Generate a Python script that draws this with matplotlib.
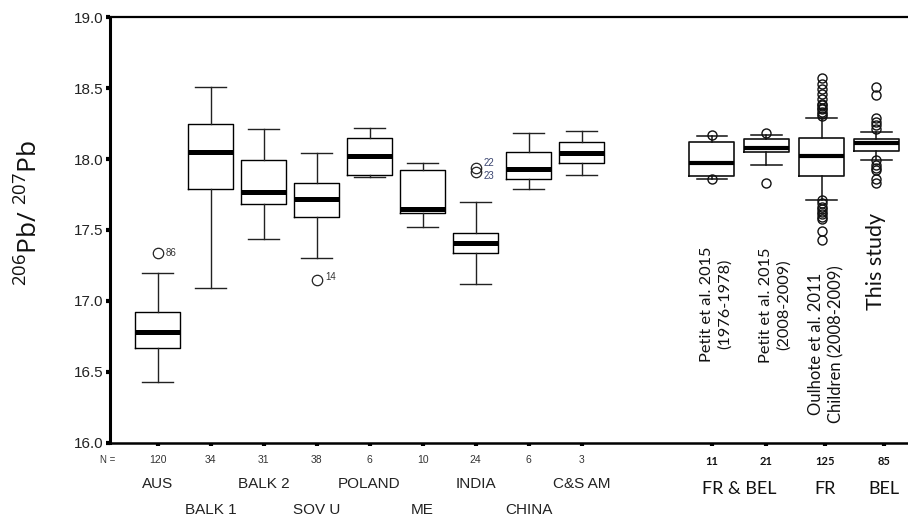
import matplotlib
matplotlib.use("Agg")
import matplotlib.pyplot as plt

# --- data ---
left_labels = ["AUS", "BALK 1", "BALK 2", "SOV U", "POLAND", "ME", "INDIA", "CHINA", "C&S AM"]
left_n = [120, 34, 31, 38, 6, 10, 24, 6, 3]
left_whishi = [17.20, 18.51, 18.21, 18.04, 18.22, 17.97, 17.70, 18.18, 18.20]
left_q3 = [16.92, 18.25, 17.99, 17.83, 18.15, 17.92, 17.48, 18.05, 18.12]
left_med = [16.78, 18.05, 17.77, 17.72, 18.02, 17.65, 17.41, 17.93, 18.04]
left_q1 = [16.67, 17.79, 17.68, 17.59, 17.89, 17.62, 17.34, 17.86, 17.97]
left_whislo = [16.43, 17.09, 17.44, 17.30, 17.87, 17.52, 17.12, 17.79, 17.89]
left_fliers = [[17.34], [], [], [17.15], [], [], [17.94, 17.91], [], []]
left_flier_ids = [["86"], [], [], ["14"], [], [], ["22", "23"], [], []]

right_labels = ["Petit et al. 2015\n(1976-1978)", "Petit et al. 2015\n(2008-2009)",
                "Oulhote et al. 2011\nChildren (2008-2009)", "This study"]
right_n = [11, 21, 125, 85]
right_whishi = [18.16, 18.17, 18.29, 18.19]
right_q3 = [18.12, 18.14, 18.15, 18.14]
right_med = [17.97, 18.08, 18.02, 18.11]
right_q1 = [17.88, 18.05, 17.88, 18.06]
right_whislo = [17.86, 17.96, 17.71, 17.99]
right_fliers = [
    [18.17, 17.86],
    [18.18, 17.83],
    [18.57, 18.53, 18.49, 18.46, 18.42, 18.39, 18.38, 18.36, 18.35, 18.33, 18.32, 18.30,
     17.71, 17.69, 17.66, 17.65, 17.63, 17.61, 17.59, 17.58, 17.49, 17.43],
    [18.51, 18.45, 18.29, 18.26, 18.24, 18.21, 17.99, 17.96, 17.94, 17.92, 17.86, 17.83],
]
region_labels = ["FR & BEL", "FR", "BEL"]

# --- layout ---
left_pos = list(range(1, 10))
right_pos = [11.46, 12.49, 13.53, 14.56]
right_tick_pos = [11.46, 12.48, 13.6, 14.7]
region_pos = [11.97, 13.6, 14.7]
ref_text_x = [11.53, 12.65, 13.62, 14.55]
ref_text_y = [0.19, 0.188, 0.047, 0.312]
ref_text_size = [11.8, 11.8, 12, 15.5]

ARIAL = "Liberation Sans"
CALIBRI = "Lato"


def make_stats(whislo, q1, med, q3, whishi, fliers):
    out = []
    for i in range(len(med)):
        out.append(dict(whislo=whislo[i], q1=q1[i], med=med[i], q3=q3[i],
                        whishi=whishi[i], fliers=fliers[i]))
    return out


fig = plt.figure(figsize=(9.08, 5.18), dpi=100)
ax = fig.add_axes([0.121, 0.145, 0.879, 0.822])

common = dict(widths=0.85, capwidths=0.58, showfliers=True, patch_artist=False)
ax.bxp(make_stats(left_whislo, left_q1, left_med, left_q3, left_whishi, left_fliers),
       positions=left_pos, **common,
       boxprops=dict(color="black", lw=1.0),
       whiskerprops=dict(color="#222222", lw=1.0),
       capprops=dict(color="#222222", lw=1.0),
       medianprops=dict(color="black", lw=3.6, solid_capstyle="butt"),
       flierprops=dict(marker="o", mfc="none", mec="#222222", ms=7.5, mew=0.9))

ax.bxp(make_stats(right_whislo, right_q1, right_med, right_q3, right_whishi, right_fliers),
       positions=right_pos, **common,
       boxprops=dict(color="#111111", lw=1.2),
       whiskerprops=dict(color="#111111", lw=1.1),
       capprops=dict(color="#111111", lw=1.1),
       medianprops=dict(color="black", lw=3.0, solid_capstyle="butt"),
       flierprops=dict(marker="o", mfc="none", mec="#111111", ms=6.5, mew=1.0))

# outlier case numbers
for i, ids in enumerate(left_flier_ids):
    for j, lab in enumerate(ids):
        dy = 0
        if lab == "22":
            dy = 3
        elif lab == "23":
            dy = -3
        elif lab == "14":
            dy = 2
        col = "#3a4570" if lab in ("22", "23") else "#333333"
        ax.annotate(lab, (left_pos[i], left_fliers[i][j]), xytext=(6, dy),
                    textcoords="offset points", fontsize=7, family=ARIAL,
                    color=col, va="center", ha="left")

ax.set_xlim(0.1, 15.16)
ax.set_ylim(16.0, 19.0)
ax.set_yticks([16.0, 16.5, 17.0, 17.5, 18.0, 18.5, 19.0])
ax.set_yticklabels([f"{v:.1f}" for v in ax.get_yticks()], family=ARIAL,
                   fontsize=11, color="#222222")
ax.tick_params(axis="y", direction="out", length=3, width=3, pad=1.5, color="black")
ax.set_xticks(left_pos + right_tick_pos)
ax.set_xticklabels([])
ax.tick_params(axis="x", direction="out", length=2.5, width=3, color="black")

for side, lw in (("left", 2.2), ("top", 1.6), ("bottom", 1.8)):
    ax.spines[side].set_linewidth(lw)
ax.spines["right"].set_visible(False)

trans = ax.get_xaxis_transform()
ax.text(-0.003, -0.04, "N =", transform=ax.transAxes, ha="center", va="center",
        fontsize=7, family=ARIAL, color="#333333")
for i, p in enumerate(left_pos):
    ax.text(p, -0.04, str(left_n[i]), transform=trans, ha="center", va="center",
            fontsize=7.5, family=ARIAL, color="#333333")
    row_y = -0.096 if i % 2 == 0 else -0.157
    ax.text(p, row_y, left_labels[i], transform=trans, ha="center", va="center",
            fontsize=11, family=ARIAL, color="#222222")

for i, p in enumerate(right_tick_pos):
    ax.text(p, -0.043, str(right_n[i]), transform=trans, ha="center", va="center",
            fontsize=8, family=CALIBRI, fontweight="bold", color="#111111")
for i, p in enumerate(region_pos):
    ax.text(p, -0.108, region_labels[i], transform=trans, ha="center", va="center",
            fontsize=13, family=CALIBRI, color="#111111")

for i, lab in enumerate(right_labels):
    ax.text(ref_text_x[i], ref_text_y[i], lab, transform=trans, rotation=90,
            ha="center", va="bottom", multialignment="center", linespacing=1.3,
            fontsize=ref_text_size[i], family=CALIBRI, color="#111111")

plt.rcParams["mathtext.default"] = "regular"
ax.set_ylabel(r"$^{206}$Pb/ $^{207}$Pb", family="Open Sans", fontsize=19, color="#111111")
ax.yaxis.set_label_coords(-0.083, 0.54)

fig.savefig("out.png", dpi=100)
